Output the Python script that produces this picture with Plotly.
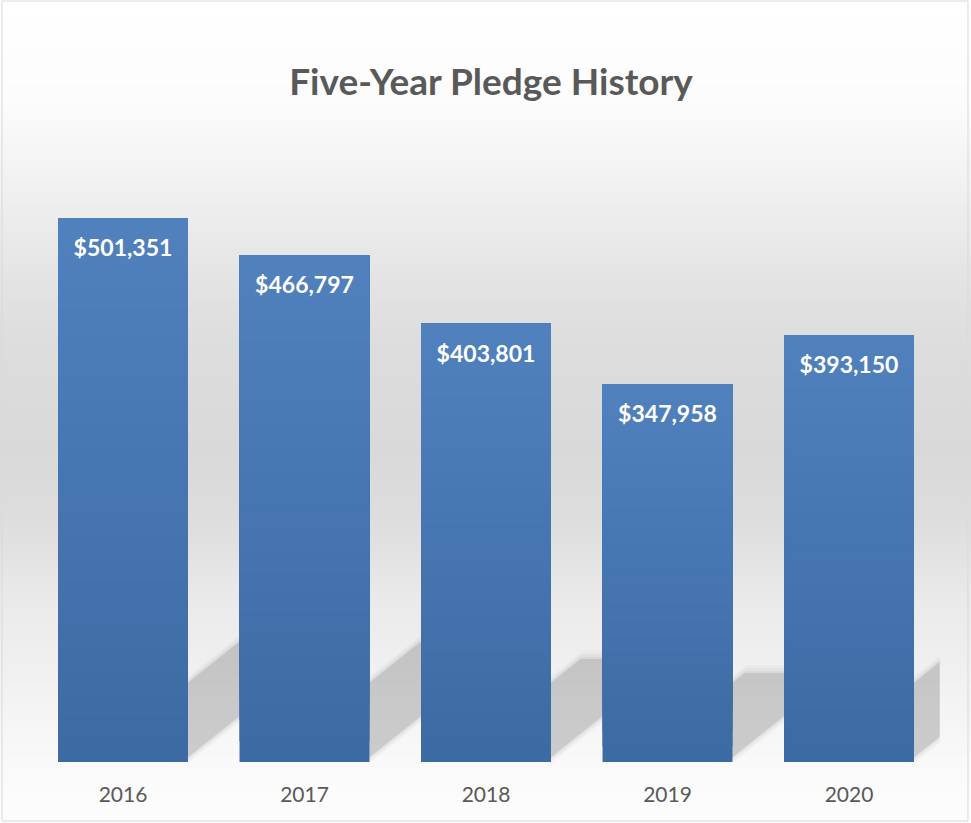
import plotly.graph_objects as go

# ---- data ----
years = ["2016", "2017", "2018", "2019", "2020"]
pledges = [501351, 466797, 403801, 347958, 393150]
labels = ["$501,351", "$466,797", "$403,801", "$347,958", "$393,150"]
title_text = "Five-Year Pledge History"

# ---- geometry / styling ----
W, H = 971, 823
plot_left, plot_right = 32.25, 939.75
plot_top, plot_bottom = 130, 762
y_max = 582450
bar_w = 0.716
font = "Lato"
bar_bottom_rgb = (60, 105, 162)
bar_top_rgb = (80, 130, 190)
label_drop_px = 32

x_px_per_cat = (plot_right - plot_left) / len(years)
y_val_per_px = y_max / (plot_bottom - plot_top)

fig = go.Figure()

# background gradient (decorative)
stops = [(0, 255), (100, 252), (140, 247), (200, 239), (260, 230), (330, 222),
         (390, 219), (450, 217), (520, 221), (600, 234), (680, 241), (760, 249), (823, 253)]


def gray_at(yp):
    for (y0, g0), (y1, g1) in zip(stops[:-1], stops[1:]):
        if y0 <= yp <= y1:
            t = (yp - y0) / (y1 - y0)
            return g0 + t * (g1 - g0)
    return stops[-1][1]


shapes = []
step = 3
yp = 0
while yp < H:
    g = round(gray_at(yp + step / 2))
    shapes.append(dict(type="rect", xref="paper", yref="paper", x0=0, x1=1,
                       y0=1 - yp / H, y1=1 - min(yp + step + 0.5, H) / H,
                       fillcolor=f"rgb({g},{g},{g})", line=dict(width=0), layer="below"))
    yp += step

# bar shadows (decorative, derived from the bar values through the axis scales)
slope = 0.8
for layer_expand, alpha in [(8, 0.025), (5, 0.03), (2, 0.04), (0, 0.09)]:
    for i, v in enumerate(pledges):
        h_px = v / y_val_per_px
        dy_px = 0.235 * h_px + layer_expand
        dx_px = dy_px / slope
        x1 = i + bar_w / 2
        bl = x1 + (-99 - layer_expand) / x_px_per_cat
        br = x1 + (-6 + layer_expand) / x_px_per_cat
        tl = bl + dx_px / x_px_per_cat
        tr = br + dx_px / x_px_per_cat
        ytop = dy_px * y_val_per_px
        path = f"M {bl},0 L {br},0 L {tr},{ytop} L {tl},{ytop} Z"
        shapes.append(dict(type="path", xref="x", yref="y", path=path,
                           fillcolor=f"rgba(0,0,0,{alpha})", line=dict(width=0), layer="below"))

# border
shapes.append(dict(type="rect", xref="paper", yref="paper", x0=2 / W, x1=968 / W,
                   y0=1 - 821 / H, y1=1 - 1 / H, line=dict(color="#d9d9d9", width=1),
                   fillcolor="rgba(0,0,0,0)", layer="above"))

# bars: vertical gradient built from opaque overlaid slices of each bar
N = 24
for k in range(N):
    frac = k / N
    t = (k + 0.5) / N
    c = tuple(round(b + t * (tp - b)) for b, tp in zip(bar_bottom_rgb, bar_top_rgb))
    fig.add_trace(go.Bar(x=years, y=[v * (1 - frac) for v in pledges], base=[v * frac for v in pledges],
                         width=bar_w, marker=dict(color=f"rgb{c}", line=dict(width=0)),
                         hoverinfo="skip", showlegend=False))

# value labels inside the top of each bar
fig.add_trace(go.Scatter(
    x=years, y=[v - label_drop_px * y_val_per_px for v in pledges],
    mode="text", text=["<b>" + s.replace("$", "&#36;") + "</b>" for s in labels],
    textposition="middle center", cliponaxis=False,
    textfont=dict(family=font, size=23, color="white"),
    hoverinfo="skip", showlegend=False))

fig.update_layout(
    width=W, height=H,
    margin=dict(l=0, r=0, t=0, b=0),
    paper_bgcolor="white",
    plot_bgcolor="rgba(0,0,0,0)",
    barmode="overlay",
    title=dict(text="<b>" + title_text + "</b>", x=491 / W, y=1 - 82 / H, xanchor="center", yanchor="middle",
               font=dict(family=font, size=37, color="#595959")),
    xaxis=dict(domain=[plot_left / W, plot_right / W], type="category", range=[-0.5, len(years) - 0.5],
               showgrid=False, zeroline=False, showline=False, ticks="",
               tickfont=dict(family=font, size=21, color="#595959"), ticklabelstandoff=18),
    yaxis=dict(domain=[1 - plot_bottom / H, 1 - plot_top / H], range=[0, y_max], visible=False,
               showgrid=False, zeroline=False),
    shapes=shapes,
)

fig.write_html("out.html", post_script="document.body.style.margin='0';",
               config={"displayModeBar": False})
